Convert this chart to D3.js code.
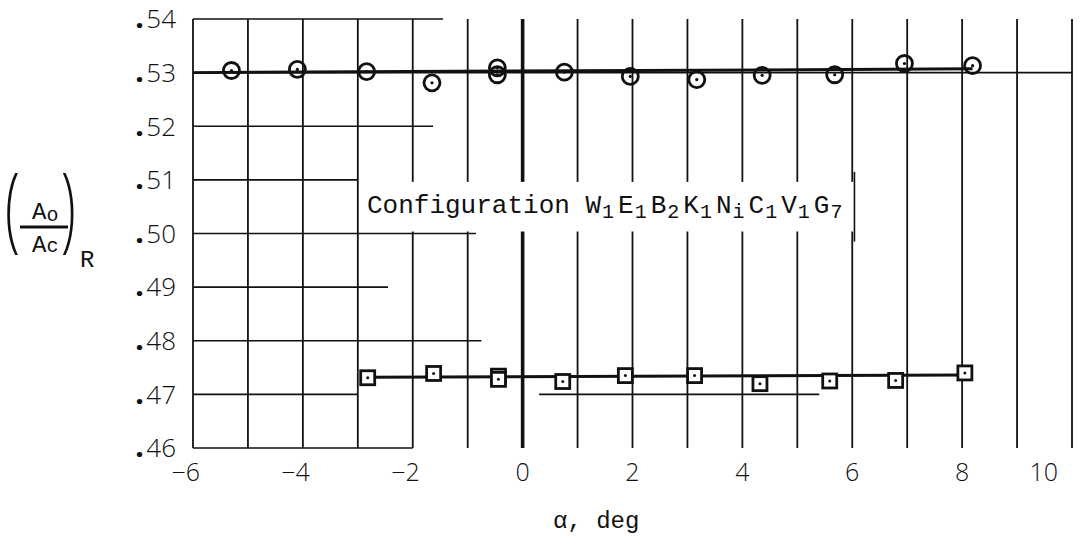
<!DOCTYPE html>
<html><head><meta charset="utf-8">
<script src="https://cdn.jsdelivr.net/npm/d3@7"></script>
<style>body{margin:0;background:#fff} svg{display:block}</style>
</head><body>
<svg id="chart" width="1091" height="536"></svg>
<script>
// Inlet area ratio vs angle of attack, two test runs
const alphaCircle = [-5.30, -4.10, -2.84, -1.65, -0.46, -0.46, 0.76, 1.96, 3.17, 4.36, 5.68, 6.95, 8.19];
const ratioCircle = [0.5304, 0.5306, 0.5302, 0.5281, 0.5309, 0.5296, 0.5301, 0.5293, 0.5287, 0.5295, 0.5296, 0.5317, 0.5313];
const alphaSquare = [-2.82, -1.62, -0.44, -0.44, 0.73, 1.87, 3.13, 4.32, 5.59, 6.79, 8.05];
const ratioSquare = [0.4731, 0.4739, 0.4734, 0.4728, 0.4724, 0.4735, 0.4735, 0.4720, 0.4725, 0.4726, 0.4740];

// faired lines through each run
const fairCircleAlpha = [-6, 8.19];
const fairCircleRatio = [0.5300, 0.5307];
const fairSquareAlpha = [-2.82, 8.05];
const fairSquareRatio = [0.4732, 0.4736];

const xTicks = [-6, -4, -2, 0, 2, 4, 6, 8, 10];
const yTicks = [0.46, 0.47, 0.48, 0.49, 0.50, 0.51, 0.52, 0.53, 0.54];
const yTickLabels = [".46", ".47", ".48", ".49", ".50", ".51", ".52", ".53", ".54"];

// graph-paper rulings: vertical every degree, horizontal rules drawn only partway
const gridColumns = d3.range(-6, 11);
const rowRatio = [0.54, 0.53, 0.52, 0.51, 0.50, 0.49, 0.48, 0.47, 0.47, 0.46];
const rowStart = [-6, -6, -6, -6, -6, -6, -6, -6, 0.3, -6];
const rowEnd   = [-1.45, 10, -1.63, -3, -0.85, -2.45, -0.75, -3, 5.4, -2];

const labelAlpha = [-3, 6.04];
const labelRatio = [0.51, 0.50];

const svg = d3.select("#chart");
const x = d3.scaleLinear().domain([-6, 10]).range([193, 1072]);
const y = d3.scaleLinear().domain([0.46, 0.54]).range([448, 19]);

const ink = "#111";
const lightFont = "'Open Sans', 'DejaVu Sans', sans-serif";
const typeFont = "'Liberation Mono', 'DejaVu Sans Mono', monospace";

// vertical rulings
svg.append("g").selectAll("line").data(gridColumns).join("line")
  .attr("x1", d => x(d)).attr("x2", d => x(d))
  .attr("y1", y(0.46)).attr("y2", y(0.54))
  .attr("stroke", ink)
  .attr("stroke-width", d => d === 0 ? 3.6 : 1.8);

// blank panel for the configuration label
svg.append("rect")
  .attr("x", x(labelAlpha[0]) + 1.5)
  .attr("y", y(labelRatio[0]) + 2)
  .attr("width", x(labelAlpha[1]) - x(labelAlpha[0]) - 1.5)
  .attr("height", y(labelRatio[1]) - y(labelRatio[0]) - 4)
  .attr("fill", "#fff");
svg.append("line")
  .attr("x1", x(labelAlpha[1])).attr("x2", x(labelAlpha[1]))
  .attr("y1", y(labelRatio[0] + 0.0015)).attr("y2", y(labelRatio[1] - 0.0015))
  .attr("stroke", ink).attr("stroke-width", 1.6);

// horizontal rulings
svg.append("g").selectAll("line").data(rowRatio).join("line")
  .attr("x1", (d, i) => x(rowStart[i])).attr("x2", (d, i) => x(rowEnd[i]))
  .attr("y1", d => y(d)).attr("y2", d => y(d))
  .attr("stroke", ink).attr("stroke-width", 1.6);

// faired lines
const line = d3.line().x(d => x(d[0])).y(d => y(d[1]));
svg.append("path").datum(d3.zip(fairCircleAlpha, fairCircleRatio))
  .attr("d", line).attr("fill", "none").attr("stroke", ink).attr("stroke-width", 3);
svg.append("path").datum(d3.zip(fairSquareAlpha, fairSquareRatio))
  .attr("d", line).attr("fill", "none").attr("stroke", ink).attr("stroke-width", 3);

// circle symbols
const circ = svg.append("g").selectAll("g").data(d3.zip(alphaCircle, ratioCircle)).join("g")
  .attr("transform", d => `translate(${x(d[0])},${y(d[1])})`);
circ.append("circle").attr("r", 8).attr("fill", "none").attr("stroke", ink).attr("stroke-width", 2.8);
circ.append("circle").attr("r", 1.6).attr("fill", ink);

// square symbols
const sq = svg.append("g").selectAll("g").data(d3.zip(alphaSquare, ratioSquare)).join("g")
  .attr("transform", d => `translate(${x(d[0])},${y(d[1])})`);
sq.append("rect").attr("x", -7).attr("y", -7).attr("width", 14).attr("height", 14)
  .attr("fill", "#fff").attr("stroke", ink).attr("stroke-width", 2.8);
sq.append("circle").attr("r", 1.5).attr("fill", ink);

// y tick labels
const yl = svg.append("g").selectAll("text").data(yTicks).join("text")
  .attr("x", 176).attr("y", d => y(d)).attr("dy", "0.36em")
  .attr("text-anchor", "end")
  .attr("font-family", lightFont).attr("font-weight", 300)
  .attr("font-size", 26).attr("fill", ink);
yl.append("tspan").attr("font-weight", 800)
  .text((d, i) => yTickLabels[i].slice(0, 1));
yl.append("tspan").attr("dx", 3).text((d, i) => yTickLabels[i].slice(1));

// x tick labels: digit centred on its ruling, minus sign set before it
svg.append("g").selectAll("text").data(xTicks).join("text")
  .attr("x", (d, i) => i === xTicks.length - 1 ? x(d) - 14 : x(d) + (d < 0 ? 7 : 0))
  .attr("y", 481)
  .attr("text-anchor", (d, i) => (d < 0 || i === xTicks.length - 1) ? "end" : "middle")
  .attr("font-family", lightFont).attr("font-weight", 300)
  .attr("font-size", 25).attr("fill", ink)
  .text(d => d < 0 ? "\u2212" + Math.abs(d) : String(d));

// x axis title
svg.append("text").attr("x", 553).attr("y", 528)
  .attr("font-family", typeFont).attr("font-size", 24).attr("fill", ink)
  .text("\u03b1, deg");

// y axis title: (Ao / Ac)R
const yt = svg.append("g").attr("fill", ink).attr("font-family", typeFont);
yt.append("text").attr("transform", "translate(5,240) scale(0.75,1.3)")
  .attr("font-family", lightFont).attr("font-weight", 300)
  .attr("font-size", 72).text("(");
yt.append("text").attr("transform", "translate(61,240) scale(0.75,1.3)")
  .attr("font-family", lightFont).attr("font-weight", 300)
  .attr("font-size", 72).text(")");
const num = yt.append("text").attr("x", 32).attr("y", 219).attr("font-size", 24);
num.append("tspan").text("A");
num.append("tspan").attr("font-size", 20).attr("dy", 2).text("o");
yt.append("line").attr("x1", 20).attr("x2", 68).attr("y1", 227).attr("y2", 227)
  .attr("stroke", ink).attr("stroke-width", 3);
const den = yt.append("text").attr("x", 32).attr("y", 252).attr("font-size", 24);
den.append("tspan").text("A");
den.append("tspan").attr("font-size", 20).text("c");
yt.append("text").attr("x", 80).attr("y", 267).attr("font-size", 24).text("R");

// configuration label
const cfgMain = ["W", "E", "B", "K", "N", "C", "V", "G"];
const cfgSub = ["1", "1", "2", "1", "i", "1", "1", "7"];
const cfg = svg.append("text").attr("x", 367).attr("y", 213)
  .attr("font-family", typeFont).attr("font-size", 26).attr("fill", ink);
cfg.append("tspan").text("Configuration ");
cfgMain.forEach((m, i) => {
  cfg.append("tspan").attr("dx", i === 0 ? 0 : 4).attr("dy", i === 0 ? 0 : -5).text(m);
  cfg.append("tspan").attr("dx", 1).attr("dy", 5).attr("font-size", 20).text(cfgSub[i]);
});
</script>
</body></html>
